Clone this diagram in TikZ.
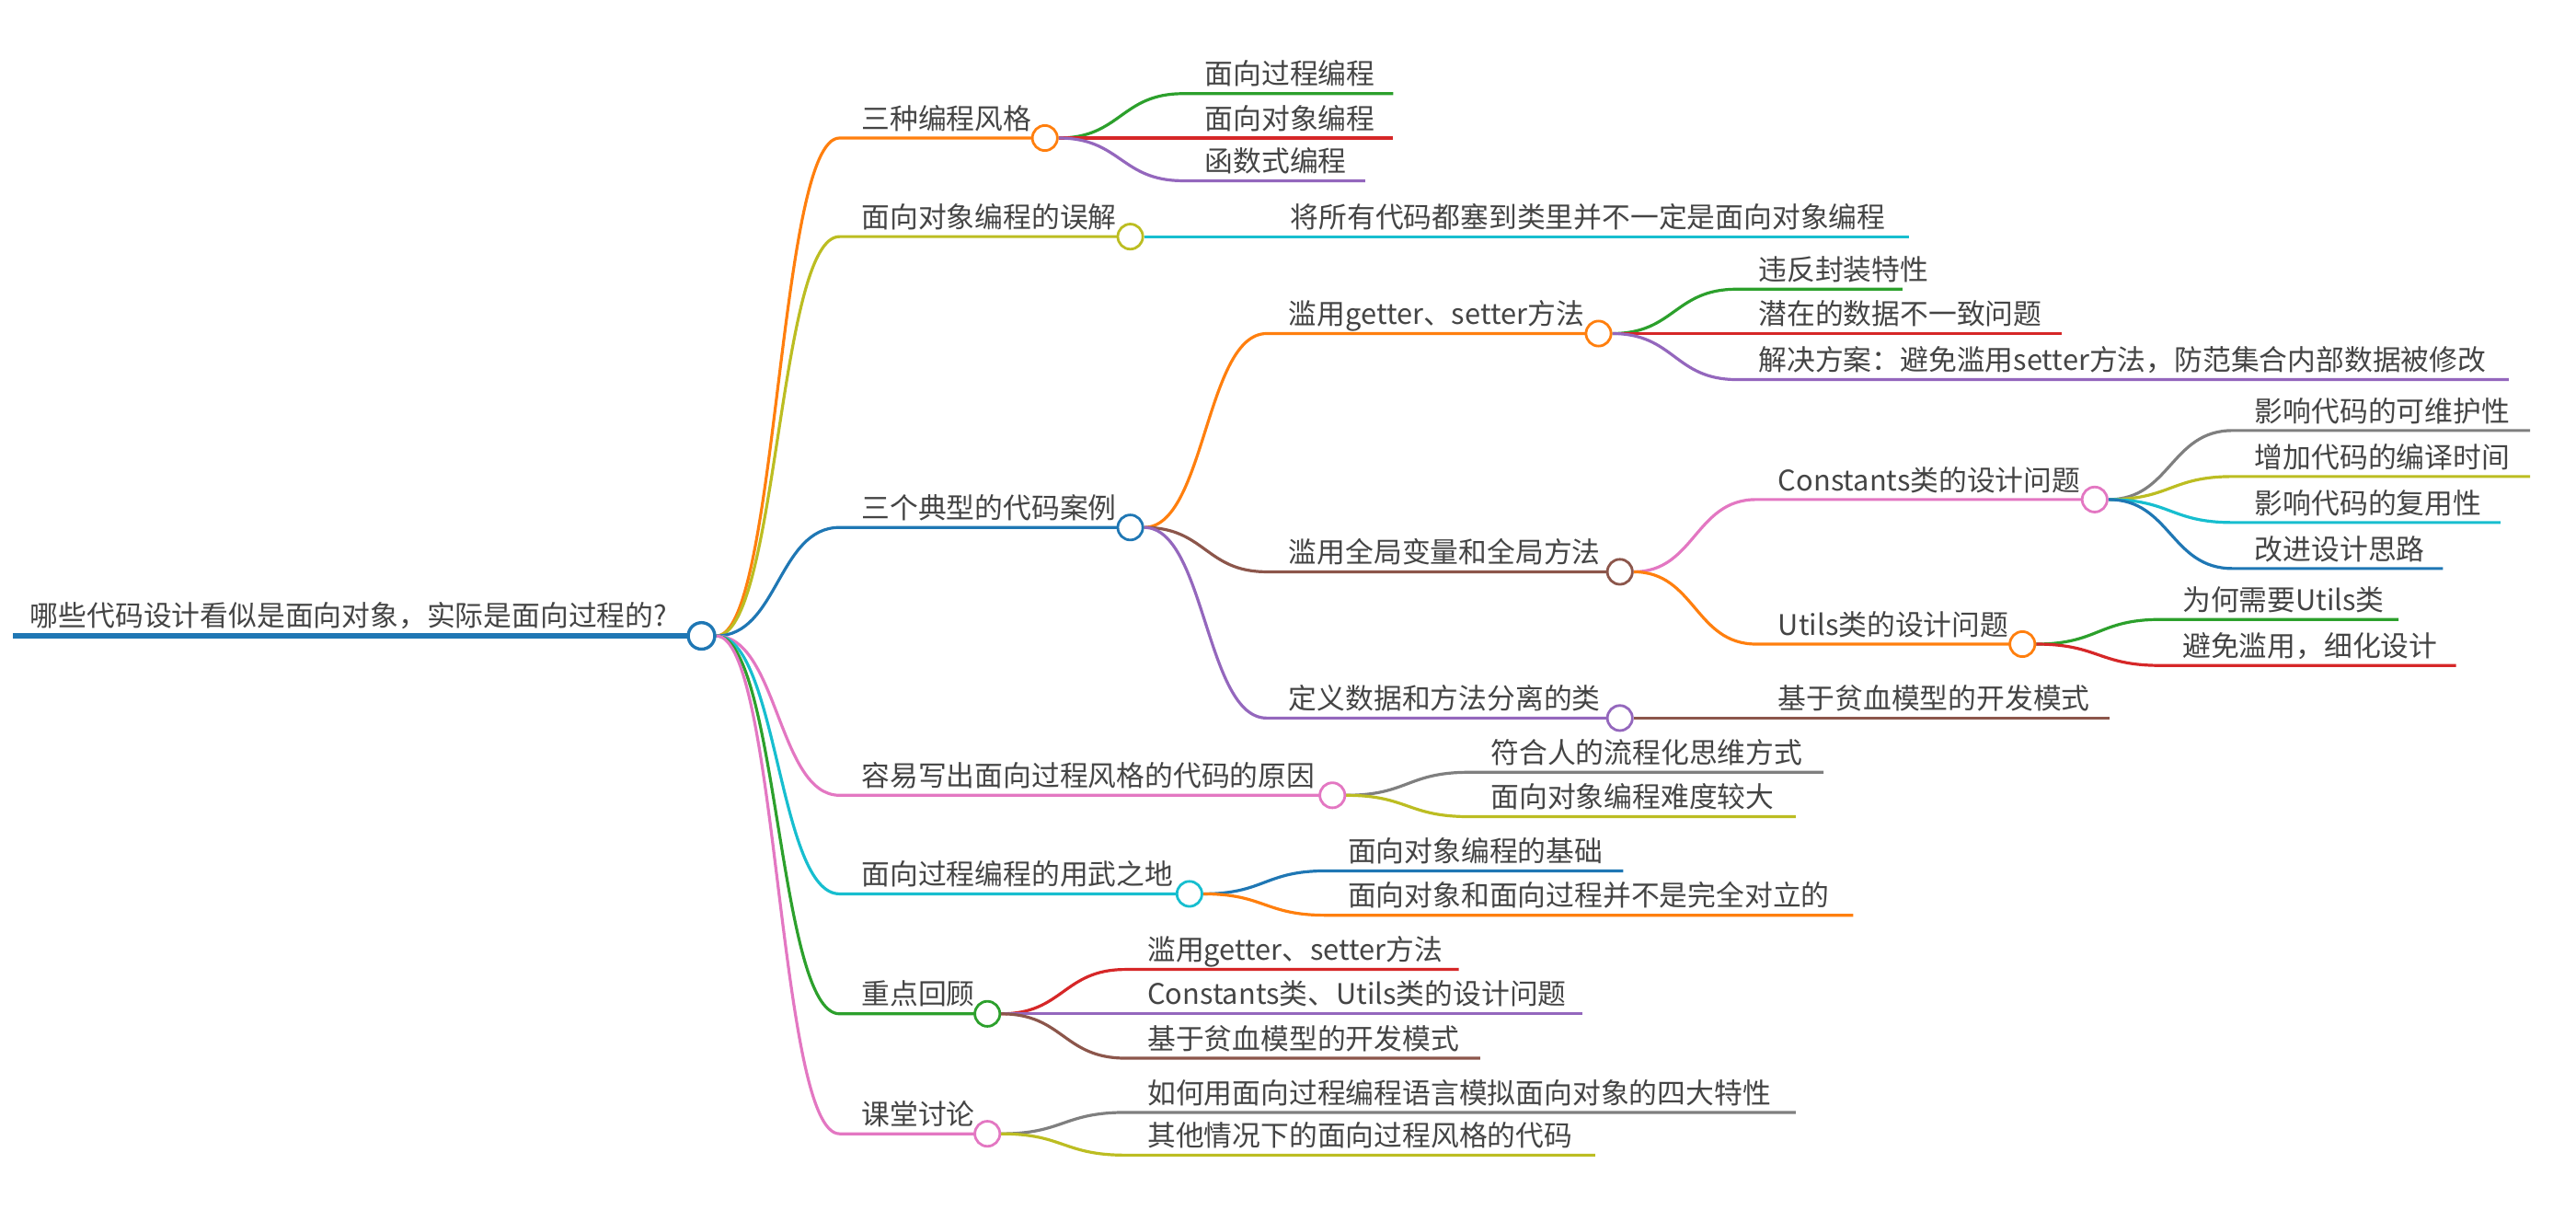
\documentclass[tikz,border=0pt]{standalone}
\usepackage{fontspec}
\setmainfont{Noto Sans CJK SC}
\usetikzlibrary{calc,backgrounds}
\definecolor{cBlue}{HTML}{1F77B4}
\definecolor{cOrange}{HTML}{FF7F0E}
\definecolor{cGreen}{HTML}{2CA02C}
\definecolor{cRed}{HTML}{D62728}
\definecolor{cPurple}{HTML}{9467BD}
\definecolor{cBrown}{HTML}{8C564B}
\definecolor{cPink}{HTML}{E377C2}
\definecolor{cGray}{HTML}{7F7F7F}
\definecolor{cOlive}{HTML}{BCBD22}
\definecolor{cCyan}{HTML}{17BECF}
\definecolor{txt}{HTML}{444444}
\tikzset{
  lbl/.style={anchor=base west, inner sep=0pt, text=txt, font=\fontsize{7.7pt}{9pt}\selectfont},
  dot/.style={circle, draw=#1, fill=white, line width=0.7pt, minimum size=6.8pt, inner sep=0pt},
  link/.style={draw=#1, line width=0.8pt},
  rootline/.style={draw=cBlue, line width=1.7pt},
  sc/.style={to path={let \p1=(\tikztostart), \p2=(\tikztotarget) in
      .. controls ({(\x1+\x2)/2},\y1) and ({(\x1+\x2)/2},\y2) .. (\tikztotarget)}}
}
% name, colour, parent, line start x, y, circle x, text
\newcommand\mmtopic[7]{%
  \coordinate (#1s) at (#4,#5);
  \node[dot=#2] (#1) at (#6,#5) {};
  \node[lbl] (#1t) at ({#4+13},{#5-5.5}) {#7};
  \begin{scope}[on background layer]
    \draw[link=#2] (#3.east) to[sc] (#1s) -- (#1.center);
  \end{scope}}
% name, colour, parent, line start x, y, line end x, text
\newcommand\mmleaf[7]{%
  \coordinate (#1s) at (#4,#5);
  \coordinate (#1e) at (#6,#5);
  \node[lbl] (#1t) at ({#4+13},{#5-5.5}) {#7};
  \begin{scope}[on background layer]
    \draw[link=#2] (#3.east) to[sc] (#1s) -- (#1e);
  \end{scope}}
\begin{document}
\begin{tikzpicture}[x=0.4464pt, y=-0.4464pt]
\useasboundingbox (0,0) rectangle (1568,736);
% root
\coordinate (r0) at (8,387);
\node[dot=cBlue, line width=0.85pt, minimum size=7.2pt] (root) at (427,387) {};
\node[lbl] (roott) at (18,381) {哪些代码设计看似是面向对象，实际是面向过程的?};
\begin{scope}[on background layer]
  \draw[rootline] (r0) -- (root.center);
\end{scope}
% level 1
\mmtopic{a1}{cOrange}{root}{511}{84}{636}{三种编程风格}
\mmtopic{a2}{cOlive}{root}{511}{144}{688}{面向对象编程的误解}
\mmtopic{a3}{cBlue}{root}{511}{321}{688}{三个典型的代码案例}
\mmtopic{a4}{cPink}{root}{511}{484}{811}{容易写出面向过程风格的代码的原因}
\mmtopic{a5}{cCyan}{root}{511}{544}{724}{面向过程编程的用武之地}
\mmtopic{a6}{cGreen}{root}{511}{617}{601}{重点回顾}
\mmtopic{a7}{cPink}{root}{511}{690}{601}{课堂讨论}
% a1
\mmleaf{b11}{cGreen}{a1}{720}{57}{848}{面向过程编程}
\mmleaf{b12}{cRed}{a1}{720}{84}{848}{面向对象编程}
\mmleaf{b13}{cPurple}{a1}{720}{110}{831}{函数式编程}
% a2
\mmleaf{b21}{cCyan}{a2}{772}{144}{1162}{将所有代码都塞到类里并不一定是面向对象编程}
% a3
\mmtopic{b31}{cOrange}{a3}{771}{203}{973}{滥用getter、setter方法}
\mmtopic{b32}{cBrown}{a3}{771}{348}{986}{滥用全局变量和全局方法}
\mmtopic{b33}{cPurple}{a3}{771}{437}{986}{定义数据和方法分离的类}
\mmleaf{c311}{cGreen}{b31}{1057}{176}{1158}{违反封装特性}
\mmleaf{c312}{cRed}{b31}{1057}{203}{1255}{潜在的数据不一致问题}
\mmleaf{c313}{cPurple}{b31}{1057}{231}{1527}{解决方案：避免滥用setter方法，防范集合内部数据被修改}
\mmtopic{c321}{cPink}{b32}{1069}{304}{1275}{Constants类的设计问题}
\mmtopic{c322}{cOrange}{b32}{1069}{392}{1231}{Utils类的设计问题}
\mmleaf{d1}{cGray}{c321}{1359}{262}{1540}{影响代码的可维护性}
\mmleaf{d2}{cOlive}{c321}{1359}{290}{1540}{增加代码的编译时间}
\mmleaf{d3}{cCyan}{c321}{1359}{318}{1522}{影响代码的复用性}
\mmleaf{d4}{cBlue}{c321}{1359}{346}{1487}{改进设计思路}
\mmleaf{d5}{cGreen}{c322}{1315}{377}{1460}{为何需要Utils类}
\mmleaf{d6}{cRed}{c322}{1315}{405}{1495}{避免滥用，细化设计}
\mmleaf{c331}{cBrown}{b33}{1069}{437}{1284}{基于贫血模型的开发模式}
% a4
\mmleaf{b41}{cGray}{a4}{894}{470}{1110}{符合人的流程化思维方式}
\mmleaf{b42}{cOlive}{a4}{894}{497}{1093}{面向对象编程难度较大}
% a5
\mmleaf{b51}{cBlue}{a5}{807}{530}{988}{面向对象编程的基础}
\mmleaf{b52}{cOrange}{a5}{807}{557}{1128}{面向对象和面向过程并不是完全对立的}
% a6
\mmleaf{b61}{cRed}{a6}{685}{590}{888}{滥用getter、setter方法}
\mmleaf{b62}{cPurple}{a6}{685}{617}{963}{Constants类、Utils类的设计问题}
\mmleaf{b63}{cBrown}{a6}{685}{644}{901}{基于贫血模型的开发模式}
% a7
\mmleaf{b71}{cGray}{a7}{685}{677}{1093}{如何用面向过程编程语言模拟面向对象的四大特性}
\mmleaf{b72}{cOlive}{a7}{685}{703}{971}{其他情况下的面向过程风格的代码}
\end{tikzpicture}
\end{document}
